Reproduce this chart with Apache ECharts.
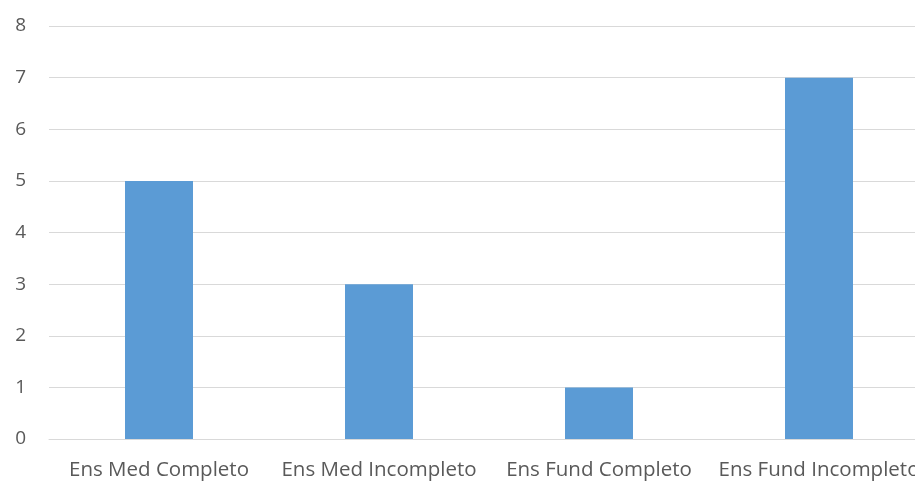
<!DOCTYPE html>
<html><head><meta charset="utf-8">
<script src="https://cdn.jsdelivr.net/npm/echarts@6/dist/echarts.min.js"></script>
<style>html,body{margin:0;padding:0;background:#fff}#w{width:915px;height:481px;overflow:hidden;position:relative}#c{position:absolute;left:0;top:0;width:929px;height:481px}</style>
</head><body><div id="w"><div id="c"></div></div>
<script>
const categories = ['Ens Med Completo','Ens Med Incompleto','Ens Fund Completo','Ens Fund Incompleto'];
const values = [5, 3, 1, 7];
const yTicks = [0,1,2,3,4,5,6,7,8];
const chart = echarts.init(document.getElementById('c'));
chart.setOption({
  animation:false,
  grid:{left:49,right:0,top:26,height:416,containLabel:false},
  xAxis:{type:'category',data:categories,
    axisLine:{show:true,lineStyle:{color:'#d9d9d9'}},axisTick:{show:false},
    axisLabel:{color:'#595959',fontFamily:'Open Sans',fontSize:20.5,margin:21,interval:0}},
  yAxis:{type:'value',min:yTicks[0],max:yTicks[yTicks.length-1],interval:1,
    axisLine:{show:false},axisTick:{show:false},
    splitLine:{lineStyle:{color:'#d9d9d9',width:1}},
    axisLabel:{color:'#595959',fontFamily:'Open Sans',fontSize:19,margin:23}},
  series:[{type:'bar',data:values,barWidth:68,itemStyle:{color:'#5b9bd5'}}]
});
</script></body></html>
